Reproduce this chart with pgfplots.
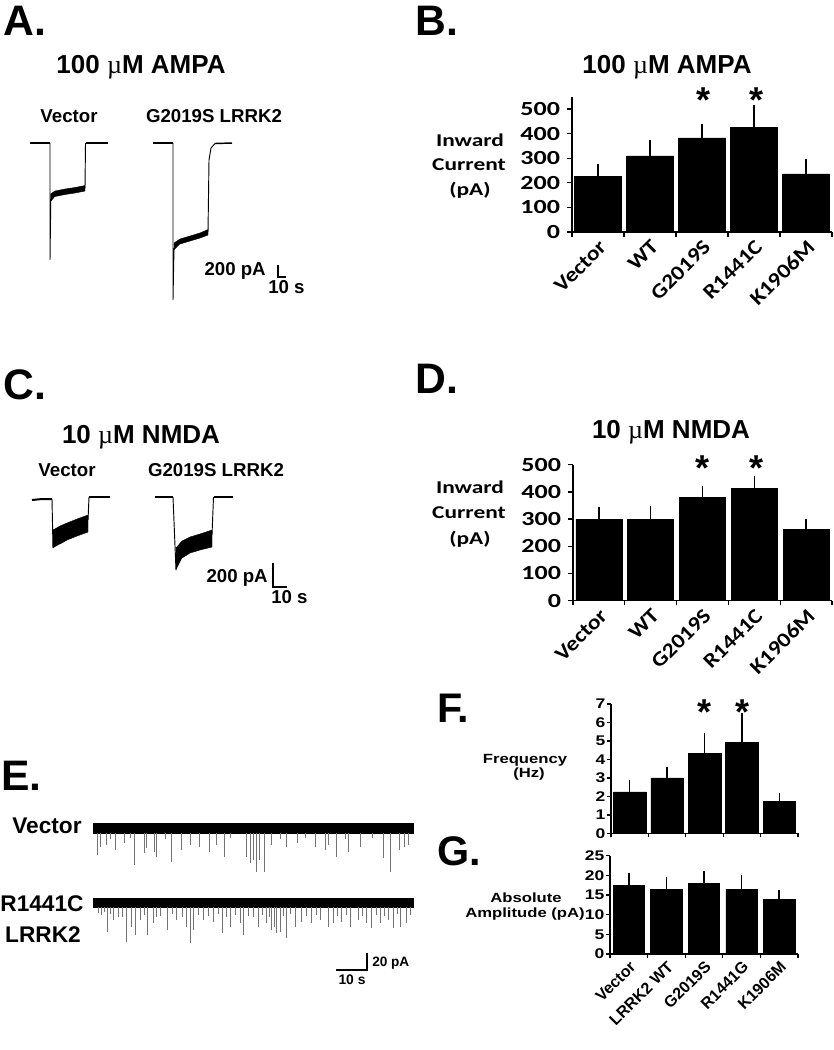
\documentclass[border=0pt]{standalone}
\usepackage{fontspec}
\setmainfont{Liberation Sans}
\newfontfamily\calw[FakeStretch=1.3, BoldFont={Carlito Bold}, BoldFeatures={FakeStretch=1.3}]{Carlito}
\newfontfamily\calx[FakeStretch=1.15, BoldFont={Carlito Bold}, BoldFeatures={FakeStretch=1.15}]{Carlito}
\newfontfamily\arw[FakeStretch=1.25]{Liberation Sans}
\newfontfamily\serf{Liberation Serif}
\usepackage{pgfplots}
\pgfplotsset{compat=1.18}
\newcommand\muu{{\serf\mdseries µ}}
\pgfplotsset{
  barax/.style={
    scale only axis, axis lines=left,
    axis line style={-, line width=1.1pt, black},
    every outer x axis line/.append style={-},
    every outer y axis line/.append style={-},
    tick align=outside, ymin=0, xmin=0.5, xmax=5.5,
    xtick={1,...,5}, minor xtick={0.5,1.5,...,5.5},
    major x tick style={draw=none},
    tick style={line width=1pt, black},
    major tick length=3.5pt, minor tick length=3.5pt,
    /pgf/number format/assume math mode=true,
    ybar, clip=false,
    x tick label style={rotate=45, anchor=north east, inner sep=1pt},
  },
  bardata/.style={fill=black, draw=black,
    error bars/.cd, y dir=plus, y explicit,
    error bar style={line width=1.1pt, black},
    error mark options={line width=1.1pt, mark size=2.3pt, black}},
}
\begin{document}
\begin{tikzpicture}
\useasboundingbox (0,0) rectangle (624.75pt,-787.5pt);
% ---------------- canvas with traces and texts (pixel coordinates)
\begin{axis}[name=canvas, at={(0,0)}, anchor=north west, scale only axis,
  width=624.75pt, height=787.5pt, xmin=0, xmax=833, ymin=0, ymax=1050,
  y dir=reverse, hide axis, clip=false]
% Panel A traces
\addplot[black, line width=1.1pt] coordinates {(30,143) (50,143)};
\addplot[black, line width=0.7pt] coordinates {(50,143) (50,260) (50.8,199)};
\addplot[fill=black, draw=black, line width=0.3pt] coordinates {(50.5,202) (50.5,194) (55,191) (65,189) (75,187.5) (85,185.5) (85,191) (75,193) (65,194.5) (55,196.5)};
\addplot[black, line width=0.7pt] coordinates {(85,188) (85.5,143)};
\addplot[black, line width=1.1pt] coordinates {(85.5,143) (108,143)};
\addplot[black, line width=1.1pt] coordinates {(153,143) (173,143)};
\addplot[black, line width=0.7pt] coordinates {(173,143) (173,300) (174,248)};
\addplot[fill=black, draw=black, line width=0.3pt] coordinates {(174,250) (174,243) (180,239) (190,236) (200,233) (208,229.5) (208,235) (200,238) (190,241) (180,244)};
\addplot[black, line width=0.7pt] coordinates {(208,232) (209,160) (211,148) (215,143.5)};
\addplot[black, line width=1.1pt] coordinates {(215,143.5) (232,143)};
% Panel C traces
\addplot[black, line width=1.5pt] coordinates {(32,500) (42,499) (52,499)};
\addplot[black, line width=0.7pt] coordinates {(52,499) (53,548)};
\addplot[fill=black, draw=black, line width=0.3pt] coordinates {(53,548) (53,530) (60,526) (67,523) (77,519) (88,515) (88,532) (77,536) (67,540) (60,544)};
\addplot[black, line width=0.7pt] coordinates {(88,520) (89,497)};
\addplot[black, line width=1.5pt] coordinates {(89,497) (110,497)};
\addplot[black, line width=1.5pt] coordinates {(155,497) (173,497)};
\addplot[black, line width=0.7pt] coordinates {(173,497) (176,570)};
\addplot[fill=black, draw=black, line width=0.3pt] coordinates {(176,570) (176,548) (182,541) (190,537) (200,534) (212,530) (212,547) (200,550) (190,553) (182,558)};
\addplot[black, line width=0.7pt] coordinates {(212,535) (213.5,497)};
\addplot[black, line width=1.5pt] coordinates {(213.5,497) (233,497)};
% Panel E traces
\addplot[fill=black, draw=black, line width=0.3pt] coordinates {(93,823) (413,823) (413,833) (93,833)};
\addplot[fill=black, draw=black, line width=0.3pt] coordinates {(93,898) (413,898) (413,907) (93,907)};
\addplot[draw=none, error bars/.cd, y dir=plus, y explicit, error mark=none,
  error bar style={black!55, line width=0.5pt}] coordinates {
(97.7,833) +- (0,22) (100,833) +- (0,14) (106,833) +- (0,12) (115,833) +- (0,17)
(124,833) +- (0,10) (134,833) +- (0,32) (144,833) +- (0,20) (146.7,833) +- (0,15)
(154,833) +- (0,19) (156.7,833) +- (0,24) (171.7,833) +- (0,29) (181.7,833) +- (0,17)
(190,833) +- (0,12) (199.3,833) +- (0,14) (209,833) +- (0,19) (216.7,833) +- (0,12)
(224,833) +- (0,24) (246.7,833) +- (0,24) (250.7,833) +- (0,30) (253.3,833) +- (0,27)
(256.7,833) +- (0,39) (259.3,833) +- (0,27) (264,833) +- (0,39) (271.7,833) +- (0,12)
(286.7,833) +- (0,14) (297.7,833) +- (0,10) (315,833) +- (0,14) (325,833) +- (0,17)
(328.3,833) +- (0,12) (336.7,833) +- (0,24) (348.3,833) +- (0,19) (360,833) +- (0,14)
(383.3,833) +- (0,25) (390.7,833) +- (0,39) (399.3,833) +- (0,17) (404,833) +- (0,14)
(408.3,833) +- (0,12) (110,833) +- (0,6) (130,833) +- (0,5) (165,833) +- (0,6)
(230,833) +- (0,5) (280,833) +- (0,6) (305,833) +- (0,5) (345,833) +- (0,6) (372,833) +- (0,5)
};
\addplot[draw=none, error bars/.cd, y dir=plus, y explicit, error mark=none,
  error bar style={black!55, line width=0.5pt}] coordinates {
(98.3,907) +- (0,6.3) (104,907) +- (0,4.7) (107.3,907) +- (0,24.7) (113.3,907) +- (0,13)
(118.3,907) +- (0,9.7) (126.7,907) +- (0,34.7) (131.7,907) +- (0,19.7) (135,907) +- (0,28)
(140,907) +- (0,13) (147.3,907) +- (0,28) (153.3,907) +- (0,16.3) (156.7,907) +- (0,9.7)
(167.7,907) +- (0,23) (176.7,907) +- (0,13) (186.7,907) +- (0,19.7) (190,907) +- (0,36.3)
(193.3,907) +- (0,23) (203.3,907) +- (0,13) (213.3,907) +- (0,14.7) (222.7,907) +- (0,26.3)
(230,907) +- (0,19.7) (240,907) +- (0,16.3) (243.3,907) +- (0,28) (253.3,907) +- (0,9.7)
(258.3,907) +- (0,19.7) (266.7,907) +- (0,16.3) (271.7,907) +- (0,23) (274,907) +- (0,19.7)
(276.7,907) +- (0,26.3) (280,907) +- (0,24.7) (286.7,907) +- (0,31.3) (295,907) +- (0,19.7)
(301.7,907) +- (0,14.7) (311.7,907) +- (0,16.3) (320,907) +- (0,13) (328.3,907) +- (0,19.7)
(333.3,907) +- (0,16.3) (341.7,907) +- (0,14.7) (350,907) +- (0,19.7) (358.3,907) +- (0,13)
(366.7,907) +- (0,16.3) (371.7,907) +- (0,21.3) (380,907) +- (0,16.3) (388.3,907) +- (0,13)
(393.3,907) +- (0,21.3) (400,907) +- (0,19.7) (406.7,907) +- (0,16.3)
(101,907) +- (0,8) (110,907) +- (0,7) (122,907) +- (0,10) (144,907) +- (0,8) (160,907) +- (0,9)
(172,907) +- (0,7) (182,907) +- (0,10) (198,907) +- (0,8) (208,907) +- (0,9) (218,907) +- (0,7)
(226,907) +- (0,10) (235,907) +- (0,8) (248,907) +- (0,9) (262,907) +- (0,8) (269,907) +- (0,10)
(283,907) +- (0,9) (290,907) +- (0,7) (306,907) +- (0,9) (316,907) +- (0,8) (337,907) +- (0,9)
(346,907) +- (0,8) (362,907) +- (0,9) (376,907) +- (0,8) (384,907) +- (0,9) (397,907) +- (0,7)
(410,907) +- (0,8)
};
% scale bars
\addplot[black, line width=1.1pt] coordinates {(278,265) (278,277) (286,277)};
\addplot[black, line width=1.1pt] coordinates {(273,563) (273,587) (287,587)};
\addplot[black, line width=1.1pt] coordinates {(367,953) (367,970) (336,970)};
% panel letters
\node[anchor=base west, inner sep=0, font=\bfseries\fontsize{32}{32}\selectfont] at (axis cs:3,35) {A.};
\node[anchor=base west, inner sep=0, font=\bfseries\fontsize{32}{32}\selectfont] at (axis cs:415,35) {B.};
\node[anchor=base west, inner sep=0, font=\bfseries\fontsize{32}{32}\selectfont] at (axis cs:3,399) {C.};
\node[anchor=base west, inner sep=0, font=\bfseries\fontsize{32}{32}\selectfont] at (axis cs:415,393) {D.};
\node[anchor=base west, inner sep=0, font=\bfseries\fontsize{32}{32}\selectfont] at (axis cs:1,790) {E.};
\node[anchor=base west, inner sep=0, font=\bfseries\fontsize{31}{31}\selectfont] at (axis cs:437,722) {F.};
\node[anchor=base west, inner sep=0, font=\bfseries\fontsize{31}{31}\selectfont] at (axis cs:437,865) {G.};
% titles
\node[anchor=base, inner sep=0, font=\bfseries\fontsize{19.5}{20}\selectfont] at (axis cs:141,73) {100 \muu M AMPA};
\node[anchor=base, inner sep=0, font=\bfseries\fontsize{19.5}{20}\selectfont] at (axis cs:667,73) {100 \muu M AMPA};
\node[anchor=base, inner sep=0, font=\bfseries\fontsize{19.5}{20}\selectfont] at (axis cs:141,443) {10 \muu M NMDA};
\node[anchor=base, inner sep=0, font=\bfseries\fontsize{19.5}{20}\selectfont] at (axis cs:671,438) {10 \muu M NMDA};
% trace labels
\node[anchor=base, inner sep=0, font=\bfseries\fontsize{14}{14}\selectfont] at (axis cs:69,122) {Vector};
\node[anchor=base, inner sep=0, font=\bfseries\fontsize{14}{14}\selectfont] at (axis cs:214,122) {G2019S LRRK2};
\node[anchor=base, inner sep=0, font=\bfseries\fontsize{14}{14}\selectfont] at (axis cs:67,476) {Vector};
\node[anchor=base, inner sep=0, font=\bfseries\fontsize{14}{14}\selectfont] at (axis cs:216,476) {G2019S LRRK2};
\node[anchor=base east, inner sep=0, font=\bfseries\fontsize{14}{14}\selectfont] at (axis cs:266,275) {200 pA};
\node[anchor=base west, inner sep=0, font=\bfseries\fontsize{14}{14}\selectfont] at (axis cs:268,293) {10 s};
\node[anchor=base east, inner sep=0, font=\bfseries\fontsize{14}{14}\selectfont] at (axis cs:268,582) {200 pA};
\node[anchor=base west, inner sep=0, font=\bfseries\fontsize{14}{14}\selectfont] at (axis cs:271,603) {10 s};
\node[anchor=base, inner sep=0, font=\bfseries\fontsize{17}{17}\selectfont] at (axis cs:47,833) {Vector};
\node[anchor=base, inner sep=0, font=\bfseries\fontsize{17}{17}\selectfont] at (axis cs:42,911) {R1441C};
\node[anchor=base, inner sep=0, font=\bfseries\fontsize{17}{17}\selectfont] at (axis cs:43,942) {LRRK2};
\node[anchor=base west, inner sep=0, font=\bfseries\fontsize{10.2}{10}\selectfont] at (axis cs:372,966) {20 pA};
\node[anchor=base, inner sep=0, font=\bfseries\fontsize{10.4}{10}\selectfont] at (axis cs:352,984) {10 s};
% bar chart y labels
\node[anchor=base, inner sep=0, font=\calw\bfseries\fontsize{13.5}{13}\selectfont] at (axis cs:470,146) {Inward};
\node[anchor=base, inner sep=0, font=\calw\bfseries\fontsize{13.5}{13}\selectfont] at (axis cs:469,170) {Current};
\node[anchor=base, inner sep=0, font=\calw\bfseries\fontsize{13.5}{13}\selectfont] at (axis cs:470,195) {(pA)};
\node[anchor=base, inner sep=0, font=\calw\bfseries\fontsize{13.5}{13}\selectfont] at (axis cs:470,493) {Inward};
\node[anchor=base, inner sep=0, font=\calw\bfseries\fontsize{13.5}{13}\selectfont] at (axis cs:469,518) {Current};
\node[anchor=base, inner sep=0, font=\calw\bfseries\fontsize{13.5}{13}\selectfont] at (axis cs:470,544) {(pA)};
\node[anchor=base, inner sep=0, font=\arw\bfseries\fontsize{10}{10}\selectfont] at (axis cs:525,763) {Frequency};
\node[anchor=base, inner sep=0, font=\arw\bfseries\fontsize{10}{10}\selectfont] at (axis cs:529,777) {(Hz)};
\node[anchor=base, inner sep=0, font=\arw\bfseries\fontsize{10}{10}\selectfont] at (axis cs:526,902) {Absolute};
\node[anchor=base, inner sep=0, font=\arw\bfseries\fontsize{10}{10}\selectfont] at (axis cs:525,917) {Amplitude (pA)};
% significance stars
\node[anchor=north, inner sep=0, font=\bfseries\fontsize{27}{27}\selectfont] at (axis cs:703,87) {*};
\node[anchor=north, inner sep=0, font=\bfseries\fontsize{27}{27}\selectfont] at (axis cs:756,87) {*};
\node[anchor=north, inner sep=0, font=\bfseries\fontsize{27}{27}\selectfont] at (axis cs:702.5,455) {*};
\node[anchor=north, inner sep=0, font=\bfseries\fontsize{27}{27}\selectfont] at (axis cs:756,455) {*};
\node[anchor=north, inner sep=0, font=\bfseries\fontsize{27}{27}\selectfont] at (axis cs:704,699) {*};
\node[anchor=north, inner sep=0, font=\bfseries\fontsize{27}{27}\selectfont] at (axis cs:742.5,699) {*};
\end{axis}
% ---------------- B
\begin{axis}[barax, at={(429pt,-174pt)}, anchor=south west,
  width=195pt, height=101.5pt, ymax=550, ytick={0,100,...,500},
  bar width=35.25pt, xticklabels={Vector,WT,G2019S,R1441C,K1906M},
  y tick label style={font=\calw\bfseries\fontsize{15}{15}\selectfont, xshift=-2pt},
  x tick label style={font=\calx\bfseries\fontsize{15.5}{16}\selectfont}]
\addplot[bardata] coordinates {(1,225) +- (0,38) (2,309) +- (0,51) (3,383) +- (0,45) (4,425) +- (0,80) (5,236) +- (0,50)};
\end{axis}
% ---------------- D
\begin{axis}[barax, at={(429.75pt,-450.5pt)}, anchor=south west,
  width=194.25pt, height=102pt, ymax=500, ytick={0,100,...,500},
  bar width=34.5pt, xticklabels={Vector,WT,G2019S,R1441C,K1906M},
  y tick label style={font=\calw\bfseries\fontsize{15}{15}\selectfont, xshift=-2pt},
  x tick label style={font=\calx\bfseries\fontsize{15.5}{16}\selectfont}]
\addplot[bardata] coordinates {(1,300) +- (0,33) (2,300) +- (0,35) (3,379) +- (0,30) (4,414) +- (0,34) (5,263) +- (0,25)};
\end{axis}
% ---------------- F
\begin{axis}[barax, at={(458.25pt,-625pt)}, anchor=south west,
  width=140.25pt, height=97pt, ymax=7, ytick={0,1,...,7},
  bar width=24.4pt, xticklabels={},
  y tick label style={font=\arw\bfseries\fontsize{10.5}{11}\selectfont, inner sep=1pt},
  major tick length=3pt, minor tick length=3pt]
\addplot[bardata] coordinates {(1,2.25) +- (0,0.49) (2,3.0) +- (0,0.45) (3,4.31) +- (0,0.94) (4,4.93) +- (0,1.4) (5,1.72) +- (0,0.31)};
\end{axis}
% ---------------- G
\begin{axis}[barax, at={(457.5pt,-715.5pt)}, anchor=south west,
  width=141pt, height=73.7pt, ymax=25, ytick={0,5,...,25},
  bar width=23.5pt, xticklabels={Vector,LRRK2 WT,G2019S,R1441G,K1906M},
  y tick label style={font=\arw\bfseries\fontsize{10.5}{11}\selectfont, inner sep=1pt},
  x tick label style={font=\bfseries\fontsize{12}{12}\selectfont},
  major tick length=3pt, minor tick length=3pt]
\addplot[bardata] coordinates {(1,17.5) +- (0,2.4) (2,16.5) +- (0,2.3) (3,17.9) +- (0,2.4) (4,16.5) +- (0,2.8) (5,13.9) +- (0,1.5)};
\end{axis}
\end{tikzpicture}
\end{document}
